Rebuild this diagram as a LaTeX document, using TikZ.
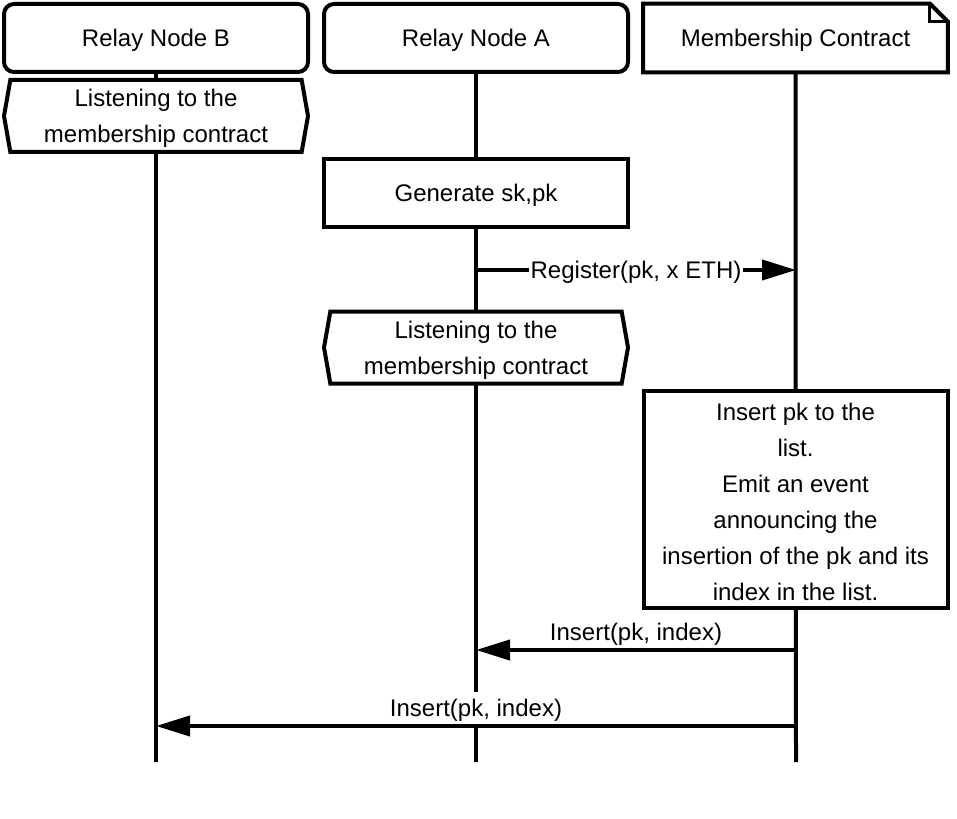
\documentclass[tikz,border=0pt]{standalone}
\usepackage{fontspec}
\setmainfont{Liberation Sans}
\usetikzlibrary{arrows.meta,shapes.symbols,backgrounds}

\newcommand\firststrut{\rule{0pt}{11.2pt}}

\tikzset{
  every node/.style={font=\fontsize{12}{18}\selectfont, align=center},
  head/.style={draw, line width=2pt, rounded corners=5pt, fill=white,
    minimum width=152pt, minimum height=34pt},
  notehead/.style={fill=white, minimum width=152pt, minimum height=34pt},
  listen/.style={draw, line width=2pt, fill=white, signal, signal to=west and east,
    signal pointer angle=160, inner xsep=0pt, inner ysep=0pt,
    minimum width=152pt, minimum height=36pt},
  act/.style={draw, line width=2pt, fill=white, inner ysep=0pt, minimum width=152pt},
  msg/.style={line width=2pt, -{Triangle[length=17pt,width=10pt]}},
  msglabel/.style={fill=white, inner sep=1pt},
  life/.style={line width=2pt}
}

\begin{document}
\begin{tikzpicture}[x=0.5pt,y=-0.5pt]
  \useasboundingbox (0,0) rectangle (957,818);
  % heads
  \node[head] (relayB) at (156,38) {\firststrut Relay Node B};
  \node[head] (relayA) at (476,38) {\firststrut Relay Node A};
  \node[notehead] (contract) at (795.5,38) {\firststrut Membership Contract};
  \draw[line width=2pt]
    (contract.north west) -- ([xshift=-9pt]contract.north east)
    -- ([yshift=-9pt]contract.north east) -- (contract.south east)
    -- (contract.south west) -- cycle;
  \draw[line width=1.5pt]
    ([xshift=-9pt]contract.north east) -- ([xshift=-9pt,yshift=-9pt]contract.north east)
    -- ([yshift=-9pt]contract.north east);
  % ends of the lifelines
  \coordinate (endB) at (156,762);
  \coordinate (endA) at (476,762);
  \coordinate (endC) at (796,762);
  % activities
  \node[listen] (listenB) at (156,116) {\firststrut Listening to the\\membership contract};
  \node[act, minimum height=34pt] (keys) at (476,193) {\firststrut Generate sk,pk};
  \node[listen] (listenA) at (476,347.5) {\firststrut Listening to the\\membership contract};
  \node[act, minimum height=108.5pt] (insert) at (795.5,499.5)
    {\firststrut Insert pk to the\\list.\\Emit an event\\announcing the\\insertion of the pk and its\\index in the list.};
  % messages
  \coordinate (regA) at (476,270);
  \coordinate (regC) at (796,270);
  \coordinate (insA) at (476,650);
  \coordinate (insCa) at (796,650);
  \coordinate (insB) at (156,726);
  \coordinate (insCb) at (796,726);
  \draw[msg] (regA) -- node[msglabel] {\firststrut Register(pk, x ETH)} (regC);
  \draw[msg] (insCa) -- node[msglabel, yshift=9pt] {\firststrut Insert(pk, index)} (insA);
  \draw[msg] (insCb) -- node[msglabel, yshift=9pt] {\firststrut Insert(pk, index)} (insB);
  \begin{scope}[on background layer]
    \draw[life] (relayB.south) -- (endB);
    \draw[life] (relayA.south) -- (endA);
    \draw[life] (contract.south) -- (endC);
  \end{scope}
\end{tikzpicture}
\end{document}
